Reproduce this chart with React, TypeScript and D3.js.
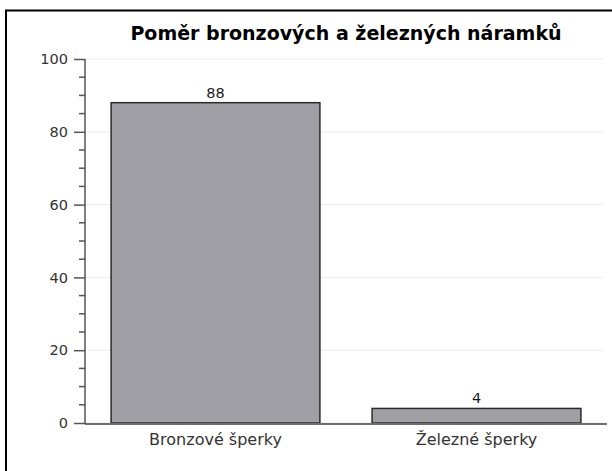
import React, { useEffect, useRef } from "react";
import * as d3 from "d3";

const categories = ["Bronzové šperky", "Železné šperky"];
const values = [88, 4];
const yTicks = [0, 20, 40, 60, 80, 100];
const title = "Poměr bronzových a železných náramků";

export default function App() {
  const ref = useRef<SVGSVGElement>(null);

  useEffect(() => {
    const width = 612;
    const height = 471;
    const margin = { top: 59, right: 5, bottom: 48, left: 85 };
    const innerWidth = width - margin.left - margin.right;
    const innerHeight = height - margin.top - margin.bottom;
    const font = "DejaVu Sans, sans-serif";

    const svg = d3.select(ref.current).attr("width", width).attr("height", height);
    svg.selectAll("*").remove();

    // frame
    svg.append("rect").attr("x", 6).attr("y", 10.5).attr("width", 620).attr("height", 480)
      .attr("fill", "white").attr("stroke", "black").attr("stroke-width", 2);

    const g = svg.append("g").attr("transform", `translate(${margin.left}, ${margin.top})`);

    const xScale = d3.scaleBand().domain(categories).range([0, innerWidth]).paddingInner(0.2).paddingOuter(0.1);
    const yScale = d3.scaleLinear().domain([0, 100]).range([innerHeight, 0]);

    // grid
    g.selectAll(".grid").data(yTicks).join("line").attr("class", "grid")
      .attr("x1", 0).attr("x2", innerWidth - 4)
      .attr("y1", d => yScale(d)).attr("y2", d => yScale(d))
      .attr("stroke", "#ebebeb").attr("stroke-width", 1);

    // bars
    g.selectAll("rect.bar").data(values).join("rect").attr("class", "bar")
      .attr("x", (d, i) => xScale(categories[i])!)
      .attr("y", d => yScale(d))
      .attr("width", xScale.bandwidth())
      .attr("height", d => innerHeight - yScale(d))
      .attr("fill", "#a09fa5").attr("stroke", "#2b2b2b").attr("stroke-width", 1.5);

    // value labels
    g.selectAll("text.val").data(values).join("text").attr("class", "val")
      .attr("x", (d, i) => xScale(categories[i])! + xScale.bandwidth() / 2)
      .attr("y", d => yScale(d) - 5)
      .attr("text-anchor", "middle").attr("font-family", font).attr("font-size", 14.5)
      .attr("fill", "#1a1a1a").text(d => d);

    // baseline
    g.append("line").attr("x1", 0).attr("x2", innerWidth).attr("y1", innerHeight + 1).attr("y2", innerHeight + 1)
      .attr("stroke", "#6e6e6e").attr("stroke-width", 2);

    // y axis
    const yAxis = d3.axisLeft(yScale).tickValues(yTicks).tickSize(11).tickPadding(6);
    const ya = g.append("g").call(yAxis);
    ya.select(".domain").attr("stroke", "#555").attr("stroke-width", 1.5).attr("d", `M0,${yScale(100)}V${innerHeight + 1}`);
    ya.selectAll(".tick line").attr("stroke", "#555").attr("stroke-width", 1.5);
    ya.selectAll(".tick text").attr("font-family", font).attr("font-size", 14.5).attr("fill", "#333");

    const minor = d3.range(5, 100, 5).filter(v => v % 20 !== 0);
    g.selectAll(".minor").data(minor).join("line").attr("class", "minor")
      .attr("x1", -6).attr("x2", 0).attr("y1", d => yScale(d)).attr("y2", d => yScale(d))
      .attr("stroke", "#555").attr("stroke-width", 1.5);

    // x labels
    g.selectAll("text.cat").data(categories).join("text").attr("class", "cat")
      .attr("x", d => xScale(d)! + xScale.bandwidth() / 2)
      .attr("y", innerHeight + 22)
      .attr("text-anchor", "middle").attr("font-family", font).attr("font-size", 16)
      .attr("fill", "#333").text(d => d);

    // title
    svg.append("text").attr("x", margin.left + innerWidth / 2).attr("y", 40)
      .attr("text-anchor", "middle").attr("font-family", font).attr("font-weight", "bold")
      .attr("font-size", 19).attr("fill", "black").text(title);
  }, []);

  return <svg ref={ref} style={{ position: "absolute", left: 0, top: 0 }}></svg>;
}
